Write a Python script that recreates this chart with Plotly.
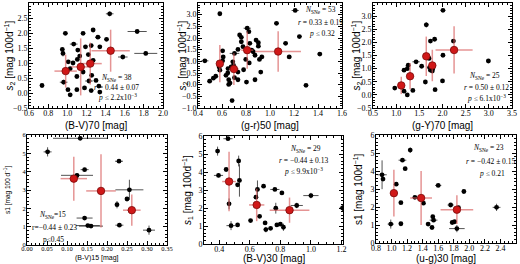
import plotly.graph_objects as go

W, H = 520, 264

# ---------------- DATA ----------------
# Panel 1: s2 vs (B-V)70
p1_x = [1.443, 1.73, 1.82, 1.58, 0.736, 1.27, 1.165, 0.98, 1.32, 1.41, 1.067, 1.19, 1.25, 0.948, 0.955,
        1.11, 1.13, 1.22, 1.01, 1.06, 1.105, 1.165, 1.10, 1.255, 0.962, 1.227, 1.007, 1.10, 1.03, 1.18,
        1.25, 1.33, 1.30, 1.34, 1.15, 1.03, 1.27, 1.34]
p1_y = [2.64, 2.05, 1.32, 1.20, 0.25, 2.10, 1.99, 1.99, 1.86, 1.79, 1.63, 1.54, 1.58, 1.45, 1.32,
        1.43, 1.23, 1.28, 1.04, 1.00, 1.12, 0.70, 0.55, 0.59, 0.36, 0.40, 0.11, 0.11, -0.06, 0.17,
        0.08, 0.23, 0.42, 0.03, 0.92, 0.81, 1.09, 1.54]
p1_xe = [0.04, 0.10, 0.12, 0.05, 0.02, 0.02, 0.02, 0.02, 0.03, 0.02, 0.04, 0.02, 0.02, 0.02, 0.02,
         0.02, 0.02, 0.02, 0.02, 0.02, 0.02, 0.02, 0.02, 0.02, 0.04, 0.04, 0.02, 0.02, 0.02, 0.02,
         0.02, 0.02, 0.02, 0.02, 0.02, 0.02, 0.02, 0.02]
p1_ye = [0.08, 0.04, 0.06, 0.04, 0.03, 0.03, 0.03, 0.03, 0.03, 0.03, 0.03, 0.03, 0.03, 0.03, 0.10,
         0.03, 0.03, 0.03, 0.03, 0.03, 0.03, 0.03, 0.03, 0.03, 0.08, 0.03, 0.03, 0.03, 0.03, 0.03,
         0.03, 0.03, 0.03, 0.03, 0.03, 0.03, 0.03, 0.03]
p1_rx = [0.983, 1.14, 1.24, 1.453]
p1_ry = [0.73, 0.87, 0.98, 1.41]
p1_rxe = [0.117, 0.10, 0.12, 0.20]
p1_rye = [0.55, 0.95, 0.70, 0.70]

# Panel 2: s2 vs (g-r)50
p2_x = [0.582, 1.21, 1.054, 1.245, 1.13, 1.16, 1.415, 1.30, 0.684, 0.497, 0.528, 0.548, 0.457, 0.605,
        0.65, 0.633, 0.656, 0.667, 0.656, 0.704, 0.733, 0.747, 0.761, 0.81, 0.824, 0.903, 0.903, 0.704,
        0.69, 0.696, 0.733, 0.775, 0.798, 0.827, 0.875, 0.912, 0.932, 0.847, 0.86, 0.78, 0.923, 0.875,
        0.605, 0.61, 0.582, 0.576, 0.761, 0.676, 0.733, 0.832, 0.884, 0.804, 0.648]
p2_y = [3.04, 3.18, 2.63, 2.06, 1.77, 1.19, 1.31, -0.03, -0.68, 0.15, 0.28, 0.36, 1.02, 1.02,
        0.69, 0.40, 0.21, 0.07, 0.01, 0.30, 0.21, 2.13, 2.03, 2.42, 2.27, 1.80, 1.65, 1.34,
        0.98, 0.83, 1.51, 1.63, 1.08, 0.93, 1.26, 1.08, 1.19, 1.48, 1.41, 0.64, 0.54, 0.21,
        1.45, 1.19, 0.62, 0.76, 1.84, 0.76, 0.54, 1.77, 1.91, 0.11, 0.50]
p2_xe = [0.015, 0.03, 0.02, 0.02, 0.02, 0.02, 0.02, 0.015, 0.01, 0.02, 0.015, 0.015, 0.03, 0.015,
         0.015, 0.015, 0.015, 0.015, 0.015, 0.015, 0.015, 0.015, 0.015, 0.03, 0.015, 0.015, 0.015, 0.04,
         0.015, 0.015, 0.015, 0.015, 0.015, 0.015, 0.015, 0.015, 0.02, 0.015, 0.015, 0.015, 0.015, 0.015,
         0.015, 0.015, 0.015, 0.015, 0.015, 0.015, 0.015, 0.015, 0.015, 0.015, 0.015]
p2_ye = [0.04] * 53
p2_rx = [0.582, 0.699, 0.81, 1.068]
p2_ry = [0.90, 0.67, 1.48, 1.42]
p2_rxe = [0.03, 0.04, 0.05, 0.19]
p2_rye = [0.80, 0.68, 0.80, 0.87]

# Panel 3: s2 vs (g-Y)70
p3_x = [2.01, 1.65, 1.74, 1.83, 2.235, 2.99, 2.01, 1.43, 1.55, 1.72, 1.78, 1.71, 1.26, 1.24,
        1.17, 1.63, 2.0, 1.84, 0.97, 1.17, 1.24, 1.36, 1.79, 1.74, 1.30]
p3_y = [3.22, 2.67, 2.05, 2.12, 2.05, 1.29, 1.51, 1.26, 1.09, 1.04, 0.91, 1.39, 1.13, 1.00,
        0.94, 0.49, 0.53, 0.20, 0.26, 0.14, 0.00, 0.17, 1.00, 0.94, 0.75]
p3_xe = [0.05, 0.05, 0.02, 0.02, 0.03, 0.05, 0.02, 0.08, 0.02, 0.02, 0.02, 0.02, 0.02, 0.02,
         0.02, 0.02, 0.02, 0.02, 0.02, 0.02, 0.02, 0.02, 0.02, 0.02, 0.02]
p3_ye = [0.05, 0.10, 0.04, 0.04, 0.04, 0.05, 0.04, 0.04, 0.04, 0.04, 0.04, 0.04, 0.04, 0.04,
         0.04, 0.04, 0.04, 0.04, 0.04, 0.04, 0.04, 0.04, 0.04, 0.04, 0.04]
p3_rx = [1.11, 1.30, 1.65, 1.78, 2.25]
p3_ry = [0.36, 0.71, 1.47, 1.12, 1.71]
p3_rxe = [0.04, 0.07, 0.05, 0.05, 0.40]
p3_rye = [0.33, 0.50, 0.75, 0.60, 0.90]

# Panel 4: s1 vs (B-V)15
p4_x = [0.133, 0.0515, 0.144, 0.23, 0.125, 0.256, 0.25, 0.225, 0.144, 0.152, 0.16, 0.231, 0.305, 0.122, 0.258]
p4_y = [5.82, 5.08, 4.11, 4.57, 3.80, 3.01, 2.51, 2.20, 1.47, 1.06, 1.03, 1.08, 0.81, 3.70, 1.90]
p4_xe = [0.068, 0.01, 0.01, 0.01, 0.04, 0.035, 0.005, 0.005, 0.02, 0.03, 0.03, 0.01, 0.015, 0.005, 0.005]
p4_ye = [0.10, 0.25, 0.08, 0.08, 0.10, 0.55, 0.10, 0.20, 0.08, 0.08, 0.08, 0.10, 0.25, 0.08, 0.08]
p4_rx = [0.117, 0.185, 0.262]
p4_ry = [3.62, 2.95, 1.90]
p4_rxe = [0.033, 0.037, 0.022]
p4_rye = [1.20, 2.00, 0.85]

# Panel 5: s1 vs (B-V)30
p5_x = [0.457, 0.389, 0.527, 0.532, 0.445, 0.395, 0.52, 0.65, 0.69, 0.764, 0.81, 1.0, 1.207, 0.907,
        0.77, 0.464, 0.477, 0.52, 0.605, 0.664, 0.70, 0.705, 0.736, 0.777, 0.80, 0.82, 0.64, 0.86, 0.46]
p5_y = [5.85, 5.16, 4.61, 3.53, 4.14, 3.81, 3.29, 3.03, 3.21, 3.03, 2.84, 2.69, 2.00, 2.14,
        1.99, 2.23, 1.02, 1.06, 1.30, 1.54, 1.17, 0.80, 0.87, 1.06, 1.10, 0.93, 2.60, 1.90, 3.45]
p5_xe = [0.03, 0.01, 0.01, 0.01, 0.01, 0.03, 0.01, 0.01, 0.01, 0.03, 0.01, 0.05, 0.02, 0.04,
         0.01, 0.01, 0.03, 0.01, 0.01, 0.01, 0.01, 0.01, 0.01, 0.01, 0.01, 0.01, 0.01, 0.01, 0.01]
p5_ye = [0.10, 0.25, 0.30, 0.90, 0.08, 0.10, 0.08, 0.50, 0.08, 0.08, 0.08, 0.15, 0.20, 0.15,
         0.30, 0.30, 0.25, 0.08, 0.08, 0.08, 0.08, 0.15, 0.08, 0.08, 0.08, 0.20, 0.08, 0.08, 0.08]
p5_rx = [0.464, 0.645, 0.86]
p5_ry = [3.47, 2.17, 1.88]
p5_rxe = [0.045, 0.05, 0.13]
p5_rye = [1.65, 0.90, 0.70]

# Panel 6: s1 vs (u-g)30
p6_x = [1.24, 1.14, 1.175, 0.878, 0.89, 1.06, 1.60, 1.93, 1.30, 1.41, 1.12, 1.76, 1.86, 2.35,
        0.99, 1.12, 1.53, 1.54, 1.47, 1.52, 1.78, 1.84, 1.81]
p6_y = [5.16, 4.60, 4.13, 3.79, 3.55, 3.27, 3.20, 2.86, 2.54, 2.21, 2.24, 2.11, 1.96, 1.98,
        1.05, 1.07, 1.46, 1.27, 1.05, 0.86, 1.14, 0.80, 1.18]
p6_xe = [0.02, 0.05, 0.02, 0.06, 0.02, 0.02, 0.04, 0.02, 0.02, 0.02, 0.02, 0.04, 0.02, 0.05,
         0.04, 0.02, 0.02, 0.05, 0.02, 0.02, 0.02, 0.10, 0.02]
p6_ye = [0.15, 0.08, 0.08, 0.80, 0.08, 0.08, 0.08, 0.08, 0.08, 0.08, 0.08, 0.08, 0.08, 0.20,
         0.25, 0.08, 0.08, 0.08, 0.08, 0.08, 0.08, 0.20, 0.08]
p6_rx = [1.03, 1.38, 1.84]
p6_ry = [2.77, 2.50, 1.85]
p6_rxe = [0.05, 0.14, 0.21]
p6_rye = [1.30, 1.50, 0.80]

x_titles = ["(B-V)70 [mag]", "(g-r)50 [mag]", "(g-Y)70 [mag]",
            "(B-V)15 [mag]", "(B-V)30 [mag]", "(u-g)30 [mag]"]
y_titles = ["<i>s</i><sub>2</sub> [mag 100d<sup>\u22121</sup>]",
            "<i>s</i><sub>2</sub> [mag 100d<sup>\u22121</sup>]",
            "<i>s</i><sub>2</sub> [mag 100d<sup>\u22121</sup>]",
            "s1 [mag 100 d<sup>\u22121</sup>]",
            "<i>s</i><sub>1</sub> [mag 100d<sup>\u22121</sup>]",
            "s1 [mag 100d<sup>\u22121</sup>]"]
stats_n = [38, 53, 25, 15, 29, 23]
stats_r = ["0.44 \u00b1 0.07", "0.33 \u00b1 0.19", "0.50 \u00b1 0.12",
           "\u22120.44 \u00b1 0.23", "\u22120.44 \u00b1 0.13", "\u22120.42 \u00b1 0.15"]
stats_p = ["2.2x10<sup>\u22123</sup>", "0.32", "6.1x10<sup>\u22123</sup>",
           "0.45", "9.9x10<sup>\u22123</sup>", "0.21"]

# ---------------- LAYOUT ----------------
# frame boxes in pixels (left, right, top, bottom)
boxes = [(29, 163, 3, 108), (198, 342, 3, 108), (373, 512, 3, 108),
         (27, 167, 135, 245), (204, 343, 136, 244), (376, 516, 135, 243)]
xranges = [[0.6, 2.0], [0.4, 1.6], [0.5, 3.5], [0.0, 0.35], [0.3, 1.21], [0.8, 2.6]]
yranges = [[-0.5, 3.0], [-1.0, 3.5], [-0.5, 3.5], [0, 6], [0, 6], [0, 6]]
xdt = [0.2, 0.2, 0.5, 0.05, 0.2, 0.2]
xt0 = [0.6, 0.4, 0.5, 0.0, 0.4, 0.8]
xfmt = [".1f", ".1f", ".1f", ".2f", ".1f", ".1f"]
ydt = [0.5, 0.5, 0.5, 1, 1, 1]
yfmt = [".1f", ".1f", ".1f", "d", "d", "d"]
# title positions in pixels
xtitle_y = [125, 125, 125, 258, 258, 258]
ytitle_x = [9, 182, 356, 7, 187, 358]

data = [
    (p1_x, p1_y, p1_xe, p1_ye, p1_rx, p1_ry, p1_rxe, p1_rye),
    (p2_x, p2_y, p2_xe, p2_ye, p2_rx, p2_ry, p2_rxe, p2_rye),
    (p3_x, p3_y, p3_xe, p3_ye, p3_rx, p3_ry, p3_rxe, p3_rye),
    (p4_x, p4_y, p4_xe, p4_ye, p4_rx, p4_ry, p4_rxe, p4_rye),
    (p5_x, p5_y, p5_xe, p5_ye, p5_rx, p5_ry, p5_rxe, p5_rye),
    (p6_x, p6_y, p6_xe, p6_ye, p6_rx, p6_ry, p6_rxe, p6_rye),
]

fig = go.Figure()
serif = "Liberation Serif"
sans = "Liberation Sans"
layout = dict(width=W, height=H, margin=dict(l=0, r=0, t=0, b=0, pad=0, autoexpand=False),
              paper_bgcolor="white", plot_bgcolor="white", showlegend=False)
annotations = []

for i in range(6):
    k = "" if i == 0 else str(i + 1)
    xa, ya = "x" + k, "y" + k
    bx, by, bxe, bye, rx, ry, rxe, rye = data[i]
    small = (i == 3)
    fig.add_trace(go.Scatter(
        x=bx, y=by, xaxis=xa, yaxis=ya, mode="markers",
        marker=dict(color="black", size=4.8),
        error_x=dict(type="data", array=bxe, color="rgba(40,40,40,0.8)", thickness=1, width=0),
        error_y=dict(type="data", array=bye, color="rgba(40,40,40,0.8)", thickness=1, width=0)))
    fig.add_trace(go.Scatter(
        x=rx, y=ry, xaxis=xa, yaxis=ya, mode="markers",
        marker=dict(color="#d01818", size=7.5, line=dict(color="#7a0a0a", width=0.8)),
        error_x=dict(type="data", array=rxe, color="rgba(215,90,90,0.65)", thickness=1.5, width=0),
        error_y=dict(type="data", array=rye, color="rgba(215,90,90,0.65)", thickness=1.5, width=0)))

    l, r, t, b = boxes[i]
    common = dict(showline=True, linecolor="black", linewidth=1, mirror="allticks",
                  ticks="inside", ticklen=4, tickcolor="black", tickwidth=0.8,
                  showgrid=False, zeroline=False, automargin=False,
                  minor=dict(ticks="inside", ticklen=2, tickcolor="black", tickwidth=0.6, showgrid=False),
                  tickfont=dict(family=serif, size=6.5 if small else 8, color="black"))
    layout["xaxis" + k] = dict(common, domain=[l / W, r / W], anchor=ya, range=xranges[i],
                               dtick=xdt[i], tick0=xt0[i], tickformat=xfmt[i],
                               ticklabelstandoff=-3)
    layout["yaxis" + k] = dict(common, domain=[1 - b / H, 1 - t / H], anchor=xa, range=yranges[i],
                               dtick=ydt[i], tickformat=yfmt[i], ticklabelstandoff=-1)
    annotations.append(dict(x=(l + r) / 2 / W, y=1 - xtitle_y[i] / H, xref="paper", yref="paper",
                            text=x_titles[i], showarrow=False, xanchor="center", yanchor="middle",
                            font=dict(family=sans, size=7 if small else 10, color="black")))
    annotations.append(dict(x=ytitle_x[i] / W, y=1 - (t + b) / 2 / H, xref="paper", yref="paper",
                            text=y_titles[i], showarrow=False, textangle=-90,
                            xanchor="center", yanchor="middle",
                            font=dict(family=sans, size=6.5 if small else 10, color="black")))

# statistics annotations (positions in pixels of the reference)
ann_pos = [
    [(116, 78), (116, 88), (117, 97)],
    [(320, 10), (320, 22), (322, 33)],
    [(484, 76), (486, 88), (486, 98)],
    [(52, 215), (54, 227), (53, 239)],
    [(305, 149), (303, 160), (303, 171)],
    [(488, 148), (490, 161), (492, 173)],
]
for i in range(6):
    if i == 3:
        texts = ["<i>N</i><sub>SNe</sub>=%d" % stats_n[i], "r=%s" % stats_r[i], "p\u2264%s" % stats_p[i]]
    else:
        texts = ["<i>N</i><sub>SNe</sub> = %d" % stats_n[i], "<i>r</i> = %s" % stats_r[i],
                 "<i>p</i> \u2264 %s" % stats_p[i]]
    for (px, py), tx in zip(ann_pos[i], texts):
        annotations.append(dict(x=px / W, y=1 - py / H, xref="paper", yref="paper",
                                text=tx, showarrow=False,
                                font=dict(family=serif, size=7.5, color="black"),
                                xanchor="center", yanchor="middle"))
layout["annotations"] = annotations
fig.update_layout(**layout)
fig.write_html("out.html", config={"displayModeBar": False},
               post_script="document.body.style.margin='0px';document.body.style.padding='0px';")
